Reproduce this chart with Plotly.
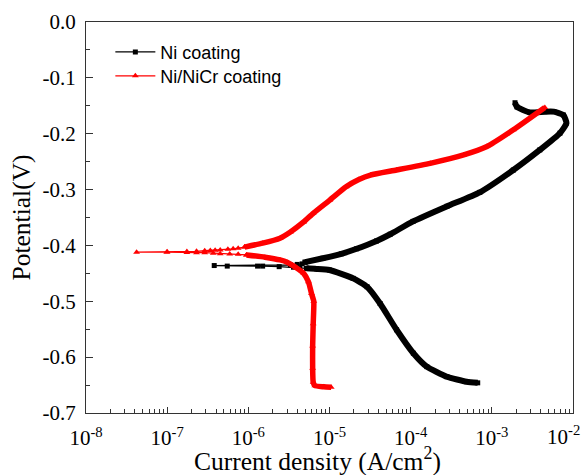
import plotly.graph_objects as go

# ---------------- data ----------------
# Ni coating: cathodic branch (dense), near-Ecorr points (sparse), anodic branch (dense)
ni_cath_i = [6.7e-4, 4.9e-4, 2.8e-4, 1.58e-4, 1.08e-4, 6.7e-5, 4.2e-5, 2.9e-5, 1.96e-5, 1.0e-5, 6.9e-6, 5.2e-6]
ni_cath_v = [-0.646, -0.644, -0.635, -0.617, -0.593, -0.551, -0.504, -0.474, -0.459, -0.444, -0.442, -0.441]

ni_mid_i = [5.2e-6, 4.3e-6, 3.6e-6, 2.4e-6, 1.5e-6, 1.3e-6, 5.5e-7, 3.8e-7, 3.3e-6, 4.0e-6, 4.6e-6, 5.0e-6]
ni_mid_v = [-0.441, -0.440, -0.439, -0.438, -0.437, -0.437, -0.437, -0.436, -0.435, -0.434, -0.433, -0.430]

ni_anod_i = [5.0e-6, 8.3e-6, 1.4e-5, 2.16e-5, 3.8e-5, 5.6e-5, 1.07e-4, 2.8e-4, 7.1e-4, 1.84e-3,
             3.9e-3, 6.9e-3, 8.3e-3, 7.6e-3, 5.8e-3, 4.5e-3, 2.95e-3, 2.04e-3, 1.93e-3]
ni_anod_v = [-0.430, -0.423, -0.415, -0.406, -0.392, -0.380, -0.357, -0.330, -0.305, -0.265,
             -0.229, -0.199, -0.181, -0.1665, -0.1605, -0.1605, -0.162, -0.152, -0.1445]

# Ni/NiCr coating
nicr_cath_i = [1.05e-5, 8.5e-6, 6.6e-6, 6.3e-6, 6.2e-6, 6.2e-6, 6.3e-6, 6.4e-6, 6.0e-6, 5.5e-6,
               4.8e-6, 3.9e-6, 3.0e-6, 2.46e-6, 1.6e-6, 9.5e-7]
nicr_cath_v = [-0.654, -0.653, -0.651, -0.645, -0.62, -0.58, -0.54, -0.50, -0.486, -0.465,
               -0.450, -0.440, -0.430, -0.426, -0.421, -0.417]

nicr_mid_i = [9.5e-7, 7.5e-7, 5.9e-7, 4.5e-7, 3.7e-7, 2.9e-7, 2.3e-7, 1.75e-7, 9.9e-8, 4.2e-8,
              1.0e-7, 1.75e-7, 2.3e-7, 2.9e-7, 3.4e-7, 3.9e-7, 4.5e-7, 5.6e-7, 6.5e-7, 7.5e-7, 9.0e-7]
nicr_mid_v = [-0.417, -0.416, -0.4155, -0.415, -0.414, -0.413, -0.413, -0.4125, -0.412, -0.412,
              -0.4115, -0.411, -0.4105, -0.4095, -0.409, -0.4085, -0.408, -0.407, -0.406, -0.405, -0.403]

nicr_anod_i = [9.0e-7, 1.5e-6, 2.46e-6, 3.3e-6, 4.8e-6, 6.3e-6, 1.01e-5, 1.6e-5, 2.3e-5, 3.2e-5,
               6.7e-5, 1.74e-4, 4.5e-4, 8.7e-4, 1.84e-3, 4.5e-3]
nicr_anod_v = [-0.403, -0.396, -0.387, -0.376, -0.358, -0.3425, -0.3187, -0.295, -0.282, -0.274,
               -0.265, -0.253, -0.238, -0.223, -0.193, -0.153]

series_names = ["Ni coating", "Ni/NiCr coating"]

# axis ticks (the last decade label is drawn as an annotation so it is not clipped)
x_tickvals = [1e-8, 1e-7, 1e-6, 1e-5, 1e-4, 1e-3, 1e-2]
x_ticktext = ["10<sup>-8</sup>", "10<sup>-7</sup>", "10<sup>-6</sup>", "10<sup>-5</sup>",
              "10<sup>-4</sup>", "10<sup>-3</sup>", ""]
x_last_label = "10<sup>-2</sup>"
x_minor = [m * d for d in [1e-8, 1e-7, 1e-6, 1e-5, 1e-4, 1e-3] for m in range(2, 10)]
y_tickvals = [0.0, -0.1, -0.2, -0.3, -0.4, -0.5, -0.6, -0.7]
y_ticktext = ["0.0", "-0.1", "-0.2", "-0.3", "-0.4", "-0.5", "-0.6", "-0.7"]
y_minor = [-0.05, -0.15, -0.25, -0.35, -0.45, -0.55, -0.65]
x_title = "Current density (A/cm<sup>2</sup>)"
y_title = "Potential(V)"

SERIF = "Liberation Serif"

# ---------------- figure ----------------
fig = go.Figure()

def add_series(cath_i, cath_v, mid_i, mid_v, anod_i, anod_v, color, symbol, name, msize, band, legend):
    for xi, yi in [(cath_i, cath_v), (anod_i, anod_v)]:
        fig.add_trace(go.Scatter(
            x=xi, y=yi, mode="lines+markers",
            line=dict(color=color, width=band, shape="spline", smoothing=0.5),
            marker=dict(color=color, symbol=symbol, size=msize),
            showlegend=False, hoverinfo="skip"))
    fig.add_trace(go.Scatter(
        x=mid_i, y=mid_v, mode="lines+markers", name=name, legend=legend,
        line=dict(color=color, width=1.3),
        marker=dict(color=color, symbol=symbol, size=msize)))

add_series(ni_cath_i, ni_cath_v, ni_mid_i, ni_mid_v, ni_anod_i, ni_anod_v,
           "#000000", "square", series_names[0], 5, 6, "legend")
add_series(nicr_cath_i, nicr_cath_v, nicr_mid_i, nicr_mid_v, nicr_anod_i, nicr_anod_v,
           "#ff0000", "triangle-up", series_names[1], 6, 5.5, "legend2")

axis_line = dict(showline=True, linecolor="#333333", linewidth=1.3, mirror=True,
                 showgrid=False, zeroline=False, ticks="inside", tickcolor="#333333",
                 automargin=False)

fig.update_xaxes(type="log", range=[-8, -2], tickmode="array", tickvals=x_tickvals,
                 ticktext=x_ticktext, ticklen=6, tickwidth=1.2, ticklabelstandoff=6,
                 minor=dict(tickmode="array", tickvals=x_minor, ticks="inside", ticklen=3.5,
                            tickcolor="#333333", tickwidth=1),
                 tickfont=dict(family=SERIF, size=21, color="#000"),
                 **axis_line)
fig.update_yaxes(range=[-0.7, 0.0], tickmode="array", tickvals=y_tickvals, ticktext=y_ticktext,
                 ticklen=7, tickwidth=1.2, ticklabelstandoff=5,
                 minor=dict(tickmode="array", tickvals=y_minor, ticks="inside", ticklen=4,
                            tickcolor="#333333", tickwidth=1),
                 tickfont=dict(family=SERIF, size=21, color="#000"),
                 title=dict(text=y_title, standoff=4,
                            font=dict(family=SERIF, size=25.5, color="#000")),
                 **axis_line)

fig.add_annotation(text=x_last_label, x=-2, xref="x", y=0, yref="paper",
                   xanchor="right", yanchor="top", xshift=9, yshift=-7, showarrow=False,
                   font=dict(family=SERIF, size=21, color="#000"))
fig.add_annotation(text=x_title, x=0.5, xref="paper", y=0, yref="paper",
                   xanchor="center", yanchor="top", xshift=-12, yshift=-28, showarrow=False,
                   font=dict(family=SERIF, size=25.5, color="#000"))

legend_common = dict(xanchor="left", yanchor="top", itemwidth=40, bgcolor="rgba(0,0,0,0)",
                     font=dict(family="Liberation Sans", size=18, color="#000"))
fig.update_layout(
    width=582, height=475,
    margin=dict(l=86, r=9, t=22, b=62),
    paper_bgcolor="white", plot_bgcolor="white",
    showlegend=True,
    legend=dict(x=0.05, y=0.97, **legend_common),
    legend2=dict(x=0.05, y=0.909, **legend_common),
)

fig.write_html("out.html", config={"displayModeBar": False},
               post_script="document.body.style.margin='0';document.body.style.overflow='hidden';")
